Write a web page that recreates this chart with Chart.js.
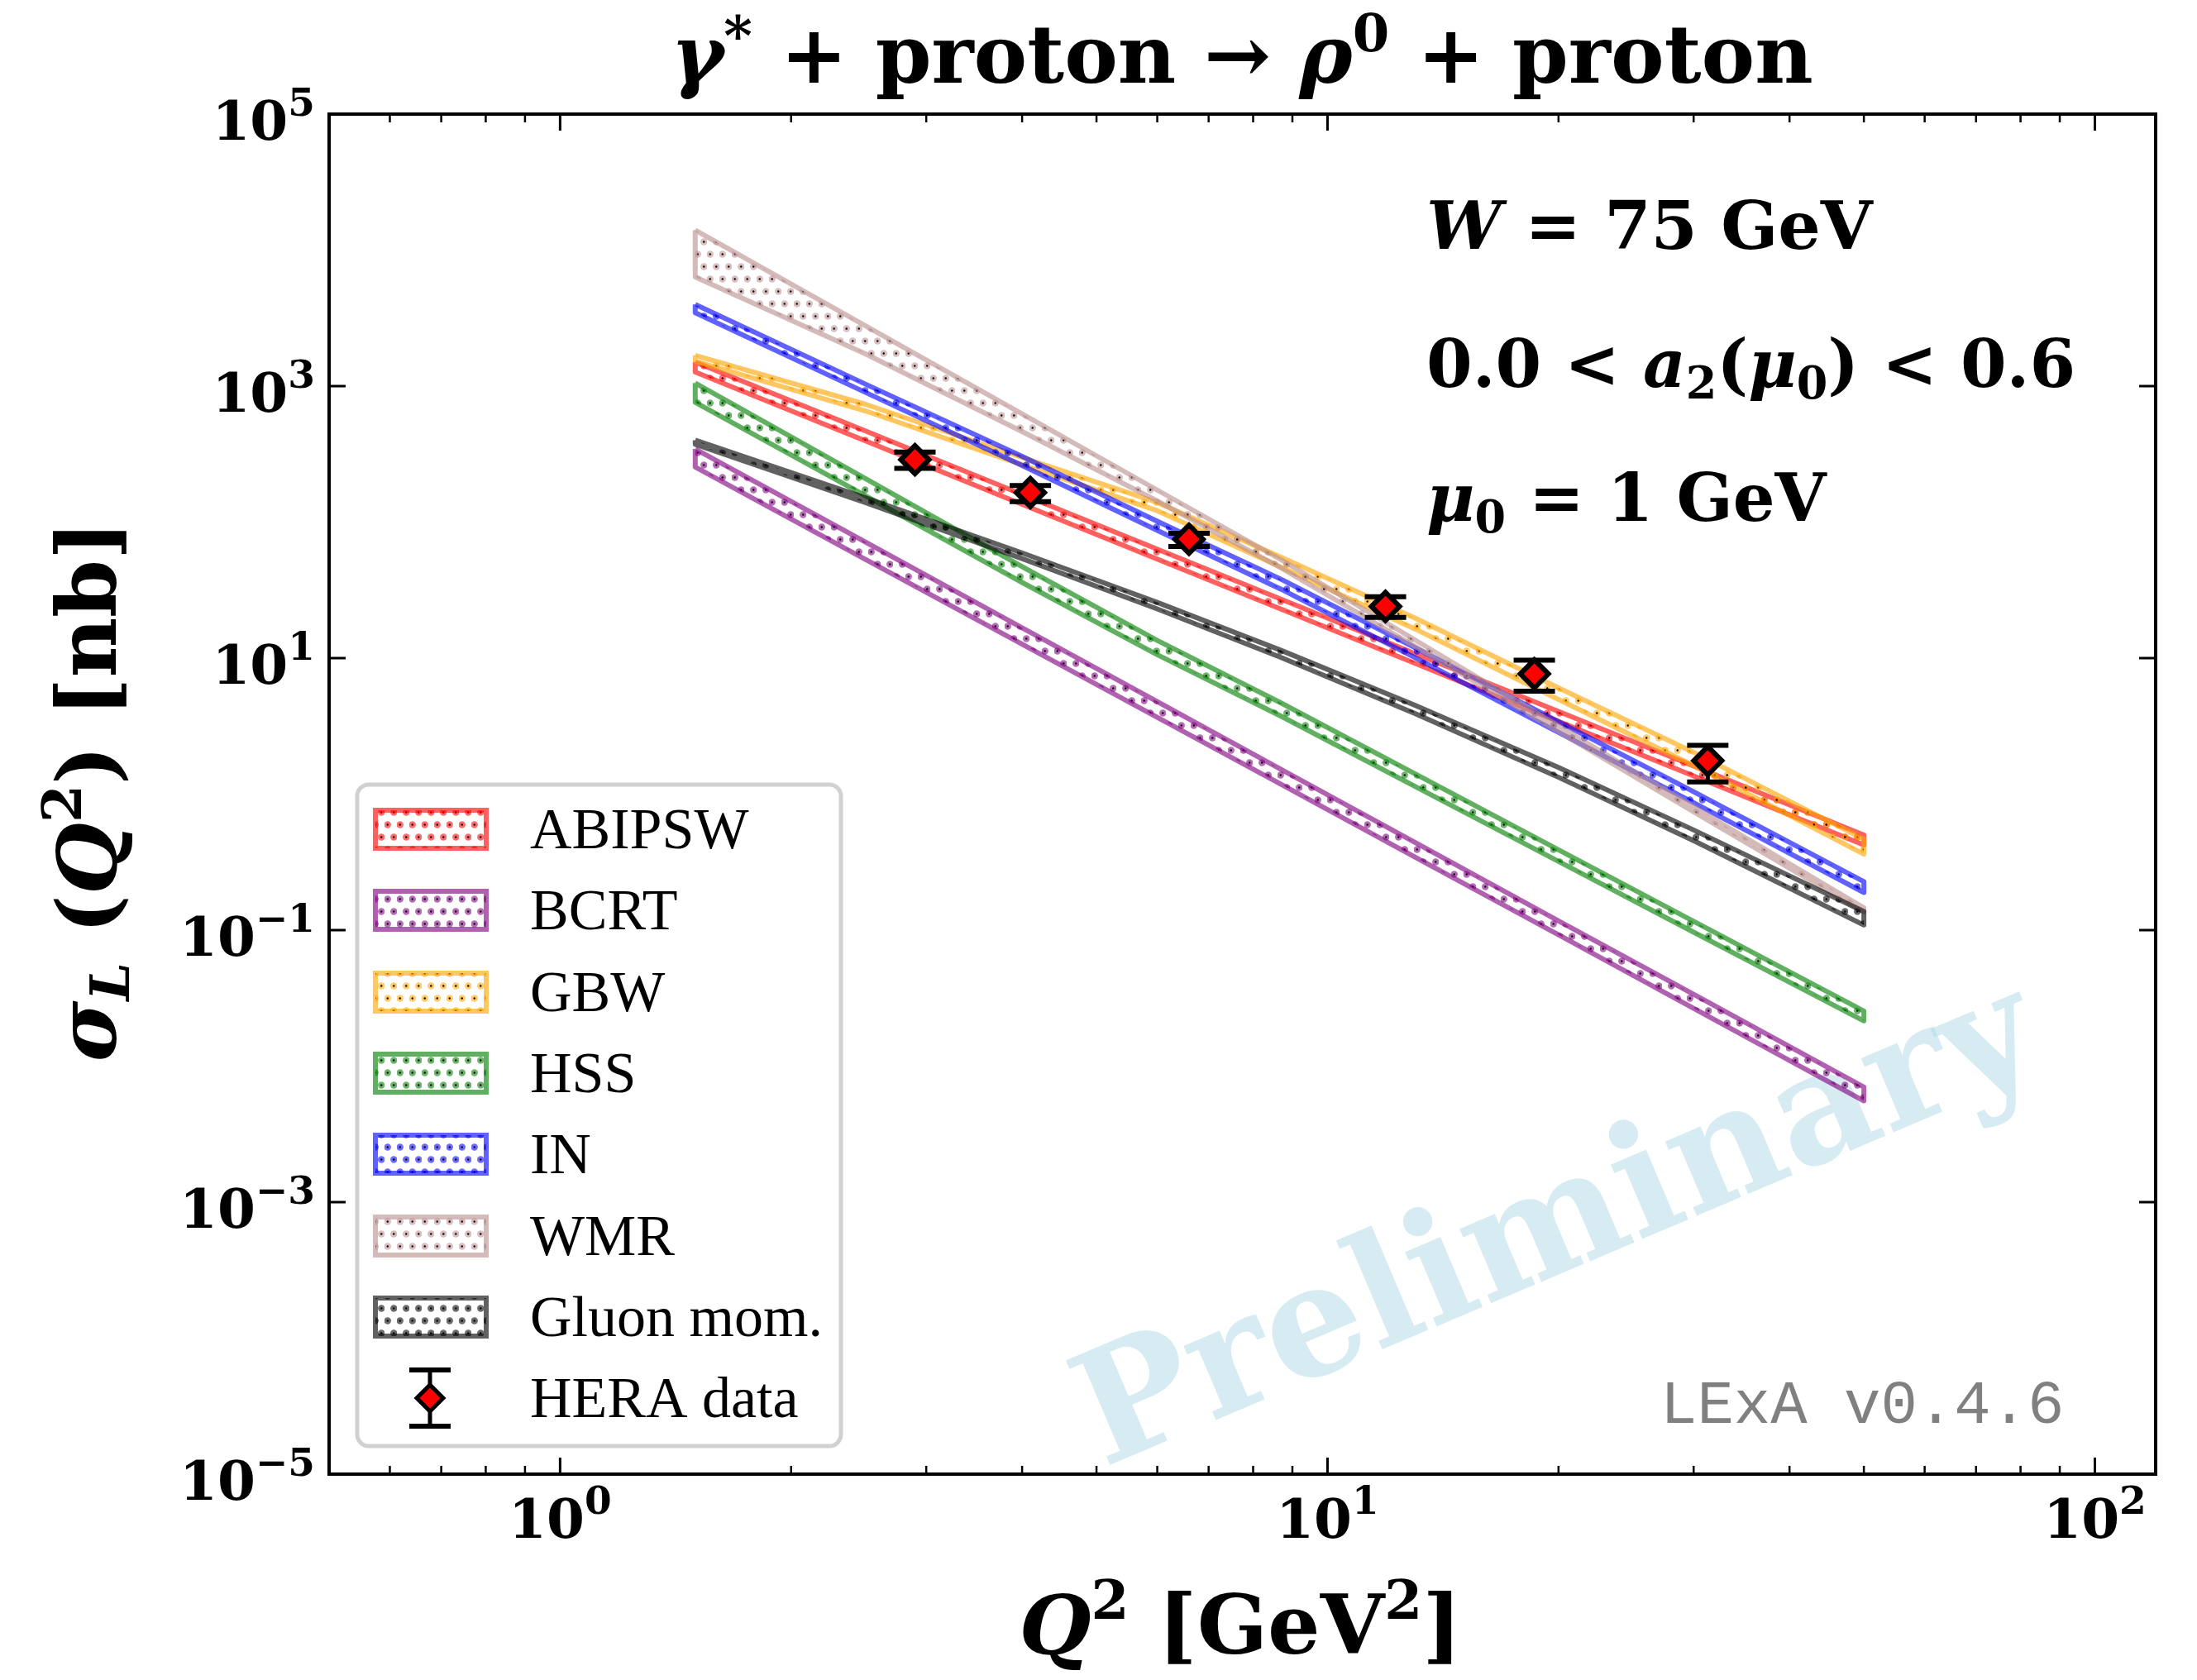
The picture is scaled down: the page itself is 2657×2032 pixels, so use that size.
<!DOCTYPE html>
<html>
<head>
<meta charset="utf-8">
<script src="https://cdn.jsdelivr.net/npm/chart.js@4.4.1/dist/chart.umd.min.js"></script>
<style>
  html, body { margin: 0; padding: 0; background: #fff; }
  #c { display: block; }
</style>
</head>
<body>
<canvas id="c" width="2657" height="2032"></canvas>
<script>
const q2Grid = [1.5, 2.5, 4, 6, 8.7, 13, 20, 30, 50];

// band edges, sigma_L in nb (upper / lower)
const abipswHi = [1501, 468, 160, 63.3, 27.1, 10.8, 4.05, 1.61, 0.500];
const abipswLo = [1269, 396, 135, 53.5, 22.9, 9.16, 3.42, 1.36, 0.423];
const bcrtHi = [345, 71.4, 16.7, 4.79, 1.52, 0.442, 0.117, 0.0337, 0.0070];
const bcrtLo = [254, 53.2, 12.65, 3.67, 1.18, 0.344, 0.0924, 0.0266, 0.00555];
const gbwHi = [1683, 735, 299, 139.5, 55.2, 19.7, 6.04, 2.03, 0.466];
const gbwLo = [1526, 657, 264, 121.3, 46.6, 16.4, 4.97, 1.62, 0.362];
const hssHi = [1053, 209, 47.0, 13.5, 4.68, 1.41, 0.389, 0.116, 0.0254];
const hssLo = [759, 156, 36.0, 10.6, 3.74, 1.14, 0.320, 0.0966, 0.0215];
const inHi = [3981, 1034, 304, 101.4, 38.0, 11.96, 3.41, 1.04, 0.227];
const inLo = [3461, 899, 261, 87.0, 32.1, 10.1, 2.84, 0.866, 0.189];
const wmrHi = [14030, 2771, 624, 172, 52.9, 13.6, 3.17, 0.803, 0.146];
const wmrLo = [6346, 1726, 463, 143, 46.0, 12.2, 2.88, 0.740, 0.136];
const gluonHi = [400, 151, 59.4, 25.7, 11.4, 4.50, 1.57, 0.545, 0.137];
const gluonLo = [373, 139, 53.9, 23.0, 10.1, 3.91, 1.33, 0.455, 0.109];

// HERA data points
const heraQ2 = [2.9, 4.1, 6.6, 11.9, 18.6, 31.3];
const heraSigma = [288, 165, 74.8, 24.0, 7.66, 1.76];
const heraErrUp = [40, 21, 8.0, 4.3, 2.0, 0.52];
const heraErrDown = [40, 23.4, 8.6, 4.1, 1.95, 0.53];

const bandNames = ["ABIPSW", "BCRT", "GBW", "HSS", "IN", "WMR", "Gluon mom."];
const bandRGB = ["255,0,0", "128,0,128", "255,165,0", "0,128,0", "0,0,255", "188,143,143", "0,0,0"];
const bandHi = [abipswHi, bcrtHi, gbwHi, hssHi, inHi, wmrHi, gluonHi];
const bandLo = [abipswLo, bcrtLo, gbwLo, hssLo, inLo, wmrLo, gluonLo];

// axis ticks
const xMajor = [1, 10, 100];
const xMinor = [0.5, 0.6, 0.7, 0.8, 0.9, 2, 3, 4, 5, 6, 7, 8, 9, 20, 30, 40, 50, 60, 70, 80, 90];
const yMajor = [1e-5, 1e-3, 1e-1, 1e1, 1e3, 1e5];

const SERIF = '"DejaVu Serif", serif';
const B = s => "bold " + s + "px " + SERIF;
const BI = s => "italic bold " + s + "px " + SERIF;

const canvas = document.getElementById("c");
const ctx0 = canvas.getContext("2d");

function dotPattern(rgb) {
    const t = document.createElement("canvas");
    t.width = 15; t.height = 30;
    const g = t.getContext("2d");
    [[3.75, 7.5], [11.25, 22.5]].forEach(([cx, cy]) => {
        g.fillStyle = "rgba(" + rgb + ",0.58)";
        g.beginPath(); g.arc(cx, cy, 4.2, 0, Math.PI * 2); g.fill();
        g.fillStyle = "#000";
        g.beginPath(); g.arc(cx, cy, 1.2, 0, Math.PI * 2); g.fill();
    });
    return ctx0.createPattern(t, "repeat");
}
const patterns = bandRGB.map(dotPattern);

function bandPolygon(hi, lo) {
    const pts = q2Grid.map((q, i) => ({ x: q, y: hi[i] }));
    for (let i = q2Grid.length - 1; i >= 0; i--) pts.push({ x: q2Grid[i], y: lo[i] });
    pts.push(pts[0]);
    return pts;
}

// draw a row of text runs: [text, font, dy]
function drawRuns(ctx, runs, x, y, align) {
    let w = 0;
    runs.forEach(r => { ctx.font = r[1]; w += ctx.measureText(r[0]).width; });
    let cx = align === "center" ? x - w / 2 : align === "right" ? x - w : x;
    ctx.textAlign = "left";
    ctx.textBaseline = "alphabetic";
    runs.forEach(r => {
        ctx.font = r[1];
        ctx.fillText(r[0], cx, y + (r[2] || 0));
        cx += ctx.measureText(r[0]).width;
    });
}

const datasets = bandNames.map((name, i) => ({
    label: name,
    data: bandPolygon(bandHi[i], bandLo[i]),
    borderColor: "rgba(" + bandRGB[i] + ",0.62)",
    backgroundColor: patterns[i],
    borderWidth: 6,
    borderJoinStyle: "round",
    pointRadius: 0,
    fill: "shape",
    tension: 0,
    order: bandNames.length - i
}));
datasets.push({
    label: "HERA data",
    data: heraQ2.map((q, i) => ({ x: q, y: heraSigma[i] })),
    showLine: false,
    pointStyle: "rectRot",
    pointRadius: 17,
    pointBackgroundColor: "#ff0000",
    pointBorderColor: "#000",
    pointBorderWidth: 6,
    order: 0
});

// 背景の透かし
const watermark = {
    id: "watermark",
    beforeDatasetsDraw(chart) {
        const ctx = chart.ctx;
        ctx.save();
        ctx.translate(1886, 1488);
        ctx.rotate(-23 * Math.PI / 180);
        ctx.fillStyle = "rgba(173,216,230,0.5)";
        ctx.font = B(188);
        ctx.textAlign = "center";
        ctx.textBaseline = "middle";
        ctx.fillText("Preliminary", 0, 0);
        ctx.restore();
    }
};

// HERA error bars
const errorBars = {
    id: "errorBars",
    beforeDatasetDraw(chart, args) {
        if (args.meta.label !== "HERA data") return;
        const { ctx, scales: { x, y } } = chart;
        ctx.save();
        ctx.strokeStyle = "#000";
        heraQ2.forEach((q, i) => {
            const px = x.getPixelForValue(q);
            const yt = y.getPixelForValue(heraSigma[i] + heraErrUp[i]);
            const yb = y.getPixelForValue(heraSigma[i] - heraErrDown[i]);
            ctx.lineWidth = 5;
            ctx.beginPath(); ctx.moveTo(px, yt); ctx.lineTo(px, yb); ctx.stroke();
            ctx.lineWidth = 6;
            ctx.beginPath();
            ctx.moveTo(px - 25, yt); ctx.lineTo(px + 25, yt);
            ctx.moveTo(px - 25, yb); ctx.lineTo(px + 25, yb);
            ctx.stroke();
        });
        ctx.restore();
    }
};

// frame, inward ticks, tick labels, titles
const frame = {
    id: "frame",
    afterDatasetsDraw(chart) {
        const { ctx, chartArea: a, scales: { x, y } } = chart;
        ctx.save();
        ctx.strokeStyle = "#000";
        ctx.lineWidth = 3;
        ctx.beginPath();
        xMajor.forEach(v => {
            const px = x.getPixelForValue(v);
            ctx.moveTo(px, a.bottom); ctx.lineTo(px, a.bottom - 20);
            ctx.moveTo(px, a.top); ctx.lineTo(px, a.top + 20);
        });
        yMajor.forEach(v => {
            const py = y.getPixelForValue(v);
            ctx.moveTo(a.left, py); ctx.lineTo(a.left + 20, py);
            ctx.moveTo(a.right, py); ctx.lineTo(a.right - 20, py);
        });
        ctx.stroke();
        ctx.lineWidth = 2.5;
        ctx.beginPath();
        xMinor.forEach(v => {
            const px = x.getPixelForValue(v);
            ctx.moveTo(px, a.bottom); ctx.lineTo(px, a.bottom - 10);
            ctx.moveTo(px, a.top); ctx.lineTo(px, a.top + 10);
        });
        ctx.stroke();
        ctx.lineWidth = 4;
        ctx.strokeRect(a.left, a.top, a.right - a.left, a.bottom - a.top);

        ctx.fillStyle = "#000";
        yMajor.forEach(v => {
            const e = Math.round(Math.log10(v));
            const py = y.getPixelForValue(v);
            drawRuns(ctx, [["10", B(66)], [String(e).replace("-", "\u2212"), B(47), -29]], a.left - 17, py + 31, "right");
        });
        xMajor.forEach(v => {
            const e = Math.round(Math.log10(v));
            const px = x.getPixelForValue(v);
            drawRuns(ctx, [["10", B(66)], [String(e), B(47), -29]], px, 1860, "center");
        });

        // title
        drawRuns(ctx, [["\u03B3", BI(97)], ["*", B(66), -34], [" + proton \u2192 ", B(97)],
            ["\u03C1", BI(97)], ["0", B(64), -38], [" + proton", B(97)]], 1502, 100, "center");
        // x axis label
        drawRuns(ctx, [["Q", BI(100)], ["2", B(66), -42], [" [GeV", B(100)], ["2", B(66), -42], ["]", B(100)]], 1500, 2000, "center");
        // y axis label
        ctx.save();
        ctx.translate(140, 957);
        ctx.rotate(-Math.PI / 2);
        drawRuns(ctx, [["\u03C3", BI(100)], ["L", BI(66), 16], [" (", B(100)], ["Q", BI(100)], ["2", B(66), -42],
            [")", B(100)], [" [nb]", B(100)]], 0, 0, "center");
        ctx.restore();

        // annotations
        drawRuns(ctx, [["W", BI(81)], [" = 75 GeV", B(81)]], 1725, 301);
        drawRuns(ctx, [["0.0 < ", B(80)], ["a", BI(80)], ["2", B(54), 14], ["(", B(80)], ["\u03BC", BI(80)],
            ["0", B(54), 14], [") < 0.6", B(80)]], 1725, 468);
        drawRuns(ctx, [["\u03BC", BI(80)], ["0", B(54), 14], [" = 1 GeV", B(80)]], 1725, 630);

        ctx.fillStyle = "#808080";
        ctx.font = '74px "Liberation Mono", monospace';
        ctx.textAlign = "left";
        ctx.fillText("LExA v0.4.6", 2008, 1721);
        ctx.restore();
    }
};

// 凡例
const legendBox = {
    id: "legendBox",
    afterDraw(chart) {
        const ctx = chart.ctx;
        const rows = [1003, 1101, 1200, 1298, 1396, 1495, 1593, 1691];
        ctx.save();
        ctx.beginPath();
        ctx.roundRect(432, 949, 585, 800, 14);
        ctx.fillStyle = "rgba(255,255,255,0.8)";
        ctx.fill();
        ctx.lineWidth = 5;
        ctx.strokeStyle = "rgba(204,204,204,0.9)";
        ctx.stroke();

        ctx.font = '70px "Liberation Serif", serif';
        bandNames.forEach((name, i) => {
            const cy = rows[i];
            ctx.fillStyle = patterns[i];
            ctx.fillRect(454, cy - 23, 134, 46);
            ctx.lineWidth = 6;
            ctx.strokeStyle = "rgba(" + bandRGB[i] + ",0.62)";
            ctx.strokeRect(454, cy - 23, 134, 46);
            ctx.fillStyle = "#000";
            ctx.textAlign = "left";
            ctx.textBaseline = "alphabetic";
            ctx.fillText(name, 641, cy + 23);
        });

        const cy = rows[7];
        ctx.strokeStyle = "#000";
        ctx.lineWidth = 5;
        ctx.beginPath(); ctx.moveTo(520, cy - 34); ctx.lineTo(520, cy + 34); ctx.stroke();
        ctx.lineWidth = 6;
        ctx.beginPath();
        ctx.moveTo(495, cy - 34); ctx.lineTo(545, cy - 34);
        ctx.moveTo(495, cy + 34); ctx.lineTo(545, cy + 34);
        ctx.stroke();
        ctx.beginPath();
        ctx.moveTo(520, cy - 16); ctx.lineTo(536, cy); ctx.lineTo(520, cy + 16); ctx.lineTo(504, cy); ctx.closePath();
        ctx.fillStyle = "#ff0000";
        ctx.fill();
        ctx.lineWidth = 5;
        ctx.stroke();
        ctx.fillStyle = "#000";
        ctx.fillText("HERA data", 641, cy + 23);
        ctx.restore();
    }
};

new Chart(canvas, {
    type: "line",
    data: { datasets: datasets },
    options: {
        responsive: false,
        animation: false,
        devicePixelRatio: 1,
        layout: { padding: { left: 398, top: 138, right: 50, bottom: 249 } },
        scales: {
            x: { type: "logarithmic", min: 0.5, max: 120, display: false },
            y: { type: "logarithmic", min: 1e-5, max: 1e5, display: false }
        },
        plugins: {
            legend: { display: false },
            tooltip: { enabled: false },
            title: { display: false }
        }
    },
    plugins: [watermark, errorBars, frame, legendBox]
});
</script>
</body>
</html>
